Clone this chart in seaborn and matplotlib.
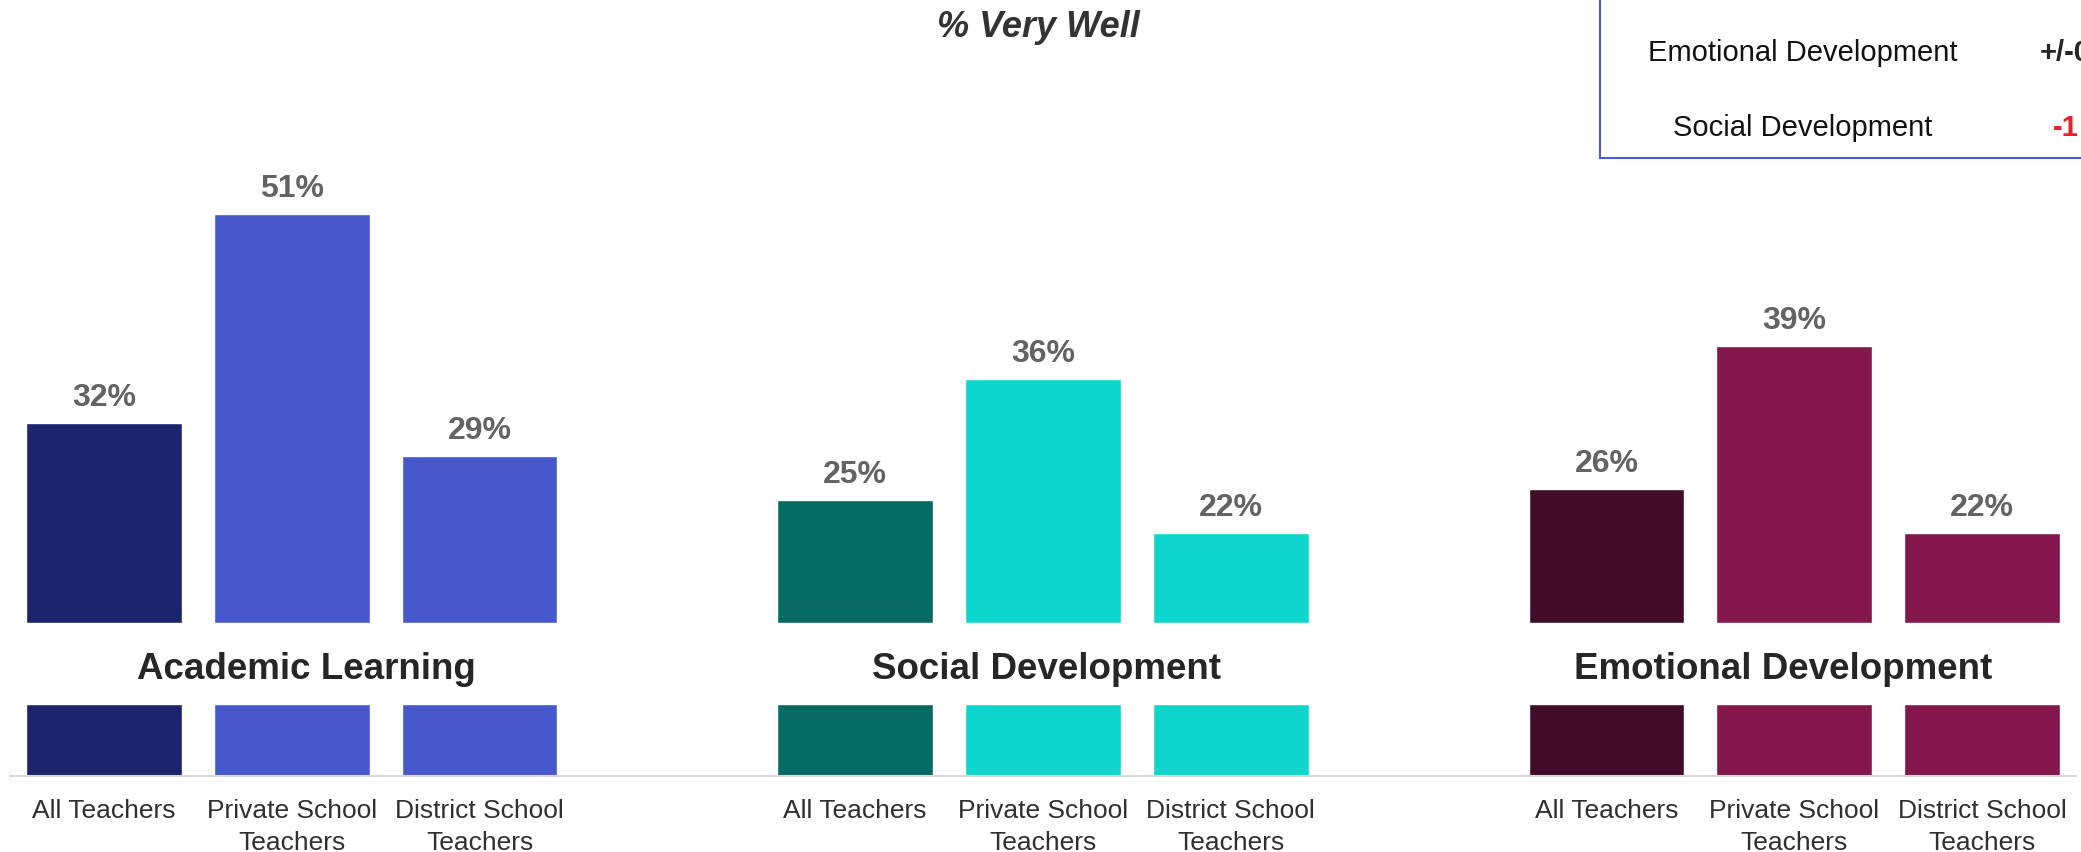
import pandas as pd
import seaborn as sns
import matplotlib.pyplot as plt
from matplotlib.patches import Rectangle

# data
groups = ['Academic Learning', 'Social Development', 'Emotional Development']
teacher_types = ['All Teachers', 'Private School\nTeachers', 'District School\nTeachers']
academic = [32, 51, 29]
social = [25, 36, 22]
emotional = [26, 39, 22]
group_colors = [['#1c256b', '#4658cc', '#4658cc'],
                ['#076963', '#0ed6cd', '#0ed6cd'],
                ['#420c28', '#84184c', '#84184c']]
legend_rows = ['Emotional Development', 'Social Development']
legend_changes = ['+/-0', '-1']

sns.set_theme(style='white')
plt.rcParams['font.family'] = ['Liberation Sans', 'DejaVu Sans']

rows = []
order = []
palette = {}
for g, (name, vals) in enumerate(zip(groups, [academic, social, emotional])):
    for i, (t, v) in enumerate(zip(teacher_types, vals)):
        key = f'{name}|{i}'
        rows.append({'key': key, 'group': name, 'teacher': t, 'value': v})
        order.append(key)
        palette[key] = group_colors[g][i]
    if g < len(groups) - 1:
        order.append(f'gap{g}')
df = pd.DataFrame(rows)

fig = plt.figure(figsize=(20.81, 8.53), dpi=100)
ax = fig.add_axes([0.0048, 0.0894, 0.9928, 0.9106])

sns.barplot(data=df, x='key', y='value', hue='key', order=order, hue_order=df['key'].tolist(),
            palette=palette, width=0.83, legend=False, saturation=1, ax=ax)

for c in ax.containers:
    ax.bar_label(c, fmt='%.0f%%', padding=8, fontsize=23, fontweight='bold', color='#636363')

# white band carrying the group names
ax.axhspan(6.5, 13.9, color='white', zorder=3)
for x, name in zip([1.08, 5.02, 8.94], groups):
    ax.text(x, 9.7, name, ha='center', va='center', fontsize=26.5,
            fontweight='bold', color='#262626', zorder=4)

ax.set_xlim(-0.5, 10.5)
ax.set_ylim(0, 70.5)
tick_pos = [order.index(k) for k in df['key']]
ax.set_xticks(tick_pos)
ax.set_xticklabels(df['teacher'], fontsize=19, color='#303030', linespacing=1.4)
ax.tick_params(axis='x', length=0, pad=16)
ax.set_yticks([])
ax.set_xlabel('')
ax.set_ylabel('')
for s in ['top', 'left', 'right']:
    ax.spines[s].set_visible(False)
ax.spines['bottom'].set_color('#d9d9d9')
ax.spines['bottom'].set_linewidth(1.5)

fig.text(0.4988, 0.968, '% Very Well', ha='center', va='center', fontsize=26,
         fontweight='bold', fontstyle='italic', color='#333333')

# change box at top right (cut off by the figure edge, as in the original)
fig.patches.append(Rectangle((0.7689, 0.8136), 0.3, 0.3, transform=fig.transFigure,
                             facecolor='white', edgecolor='#4a5bd0', linewidth=1.5))
for y, label, chg, col in zip([0.9379, 0.8500], legend_rows, legend_changes, ['#262626', '#e8202a']):
    fig.text(0.8664, y, label, ha='center', va='center', fontsize=21, color='#111111')
    fig.text(0.9803 if chg.startswith('+') else 0.9865, y, chg, ha='left', va='center',
             fontsize=21, fontweight='bold', color=col)

fig.savefig('out.png', dpi=100)
